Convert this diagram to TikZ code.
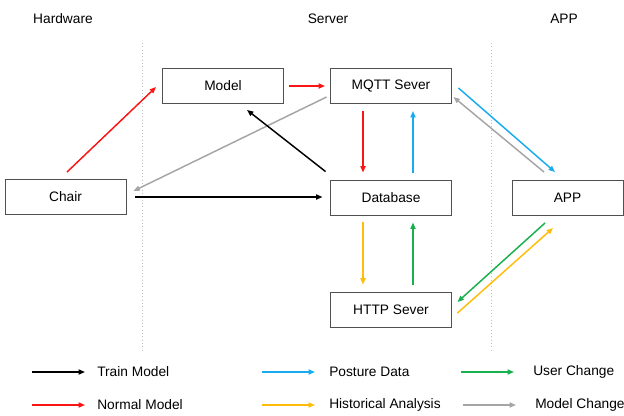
\documentclass[tikz,border=0pt]{standalone}
\usepackage{fontspec}
\setmainfont{Liberation Sans}
\usetikzlibrary{arrows.meta,calc}

\definecolor{cRed}{RGB}{250,20,20}
\definecolor{cBlue}{RGB}{24,172,238}
\definecolor{cGreen}{RGB}{25,176,78}
\definecolor{cYellow}{RGB}{255,188,10}
\definecolor{cGray}{RGB}{165,165,165}
\definecolor{cBorder}{RGB}{80,80,80}

\tikzset{
  box/.style={draw=cBorder, line width=0.7pt, minimum width=90.75pt, minimum height=26.25pt, inner sep=0pt},
  flow/.style={line width=1.1pt, -{Triangle[length=4.8pt,width=3.8pt]}},
  legendtxt/.style={anchor=west, inner sep=0pt},
  sep/.style={draw=cGray!70, line width=0.5pt, dotted}
}

\begin{document}
\begin{tikzpicture}[x=0.75pt,y=0.75pt,yscale=-1,xscale=1,font=\fontsize{10.3}{12}\selectfont]
\useasboundingbox (0,0) rectangle (624,415);

% Column titles
\node (tHw) at (63,19) {Hardware};
\node (tSrv) at (328,19) {Server};
\node (tApp) at (564,19) {APP};

% Separators
\draw [sep] (142,43) -- (142,353);
\draw [sep] (491,43) -- (491,353);

% Blocks
\node [box] (model) at (223,86) {Model};
\node [box] (mqtt) at (391,86) {MQTT Sever};
\node [box] (chair) at (65.5,197) {Chair};
\node [box] (db) at (391,197.5) {Database};
\node [box] (http) at (391,309.5) {HTTP Sever};
\node [box, minimum width=83.25pt] (app) at (567.5,198) {APP};

% Connection
\draw [flow, cRed] ($(chair.north)+(1.5,-7)$) -- ($(model.west)+(-6,1)$);
% Connection
\draw [flow, cRed] ($(model.east)+(5,0)$) -- ($(mqtt.west)+(-5,0)$);
% Connection
\draw [flow, cGray] ($(mqtt.west)+(-3.5,11)$) -- ($(chair.east)+(7,-6)$);
% Connection
\draw [flow, black] ($(db.north west)+(-4.5,-8)$) -- ($(model.south)+(24,6)$);
% Connection
\draw [flow, black] ($(chair.east)+(9,0)$) -- ($(db.west)+(-7.5,-0.5)$);
% Connection
\draw [flow, cRed] ($(mqtt.south)+(-28,7)$) -- ($(db.north)+(-28,-7)$);
% Connection
\draw [flow, cBlue] ($(db.north)+(22,-7)$) -- ($(mqtt.south)+(22,7)$);
% Connection
\draw [flow, cYellow] ($(db.south)+(-28,7)$) -- ($(http.north)+(-28,-7)$);
% Connection
\draw [flow, cGreen] ($(http.north)+(22,-7)$) -- ($(db.south)+(22,7)$);
% Connection
\draw [flow, cGreen] ($(app.south)+(-22.5,7)$) -- ($(http.east)+(5.5,-7.5)$);
% Connection
\draw [flow, cYellow] ($(http.east)+(5.5,3.5)$) -- ($(app.south)+(-14.5,12)$);
% Connection
\draw [flow, cBlue] ($(mqtt.east)+(6.5,2)$) -- ($(app.north)+(-12.5,-8)$);
% Connection
\draw [flow, cGray] ($(app.north)+(-23.5,-8)$) -- ($(mqtt.east)+(1.5,11)$);

% Legend
\node [legendtxt] (lgTrain) at (97,372) {Train Model};
\node [legendtxt] (lgNormal) at (97,405) {Normal Model};
\node [legendtxt] (lgPosture) at (329,372) {Posture Data};
\node [legendtxt] (lgHist) at (329,405) {Historical Analysis};
\node [legendtxt] (lgUser) at (533,372) {User Change};
\node [legendtxt] (lgChange) at (535,405) {Model Change};
\draw [flow, black] ($(lgTrain.west)+(-65,0)$) -- ($(lgTrain.west)+(-12,0)$);
\draw [flow, cRed] ($(lgNormal.west)+(-65,0)$) -- ($(lgNormal.west)+(-12,0)$);
\draw [flow, cBlue] ($(lgPosture.west)+(-67,0)$) -- ($(lgPosture.west)+(-14,0)$);
\draw [flow, cYellow] ($(lgHist.west)+(-67,0)$) -- ($(lgHist.west)+(-14,0)$);
\draw [flow, cGreen] ($(lgUser.west)+(-72,0)$) -- ($(lgUser.west)+(-19,0)$);
\draw [flow, cGray] ($(lgChange.west)+(-72,0)$) -- ($(lgChange.west)+(-19,0)$);

\end{tikzpicture}
\end{document}
